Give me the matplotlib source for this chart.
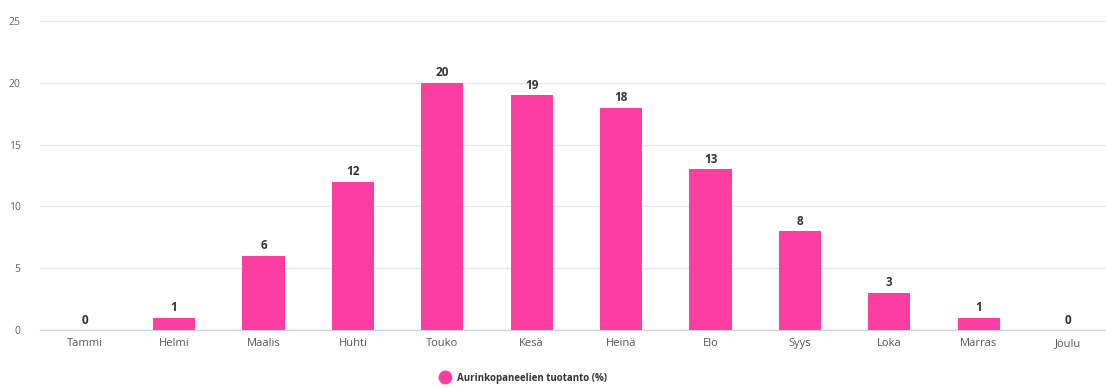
import matplotlib
matplotlib.use("Agg")
import matplotlib.pyplot as plt
from matplotlib.lines import Line2D

months = ["Tammi", "Helmi", "Maalis", "Huhti", "Touko", "Kesä", "Heinä",
          "Elo", "Syys", "Loka", "Marras", "Joulu"]
values = [0, 1, 6, 12, 20, 19, 18, 13, 8, 3, 1, 0]
yticks = [0, 5, 10, 15, 20, 25]
series_name = "Aurinkopaneelien tuotanto (%)"
color = "#fc3ea3"

plt.rcParams['font.family'] = ['Open Sans', 'DejaVu Sans']

W, H = 1106, 388
fig = plt.figure(figsize=(W / 100, H / 100), dpi=100)
left, right = 40 / W, 1.0
bottom, top = 1 - 330 / H, 1 - 21 / H
ax = fig.add_axes([left, bottom, right - left, top - bottom])

x = list(range(len(months)))
ax.bar(x, values, width=0.47, color=color, zorder=3)

for xi, v in zip(x, values):
    ax.annotate(str(v), (xi, v), xytext=(0, 2.5), textcoords="offset points",
                ha="center", va="bottom", fontsize=8.5, fontweight="bold",
                color="#333333", zorder=4)

ax.set_ylim(0, 25)
step = 89.4
ax.set_xlim(-0.5, -0.5 + (W - 40) / step)
ax.set_yticks(yticks)
ax.set_xticks(x)
ax.set_xticklabels(months)
ax.grid(axis="y", color="#e6e6e6", linewidth=1, zorder=0)
for s in ["top", "right", "left"]:
    ax.spines[s].set_visible(False)
ax.spines["bottom"].set_color("#d0d6e0")
ax.spines["bottom"].set_linewidth(1)
ax.tick_params(axis="y", length=0, labelsize=7.5, labelcolor="#666666", pad=14)
ax.tick_params(axis="x", length=0, labelsize=8, labelcolor="#555555", pad=6)

handle = Line2D([], [], marker="o", linestyle="none", markersize=9,
                markerfacecolor=color, markeredgecolor=color)
fig.legend([handle], [series_name], loc="center",
           bbox_to_anchor=(521 / W, 1 - 378 / H), frameon=False,
           prop={"size": 7, "weight": "bold"}, handletextpad=0.2,
           labelcolor="#333333")

fig.savefig("out.png", dpi=100, facecolor="white")
